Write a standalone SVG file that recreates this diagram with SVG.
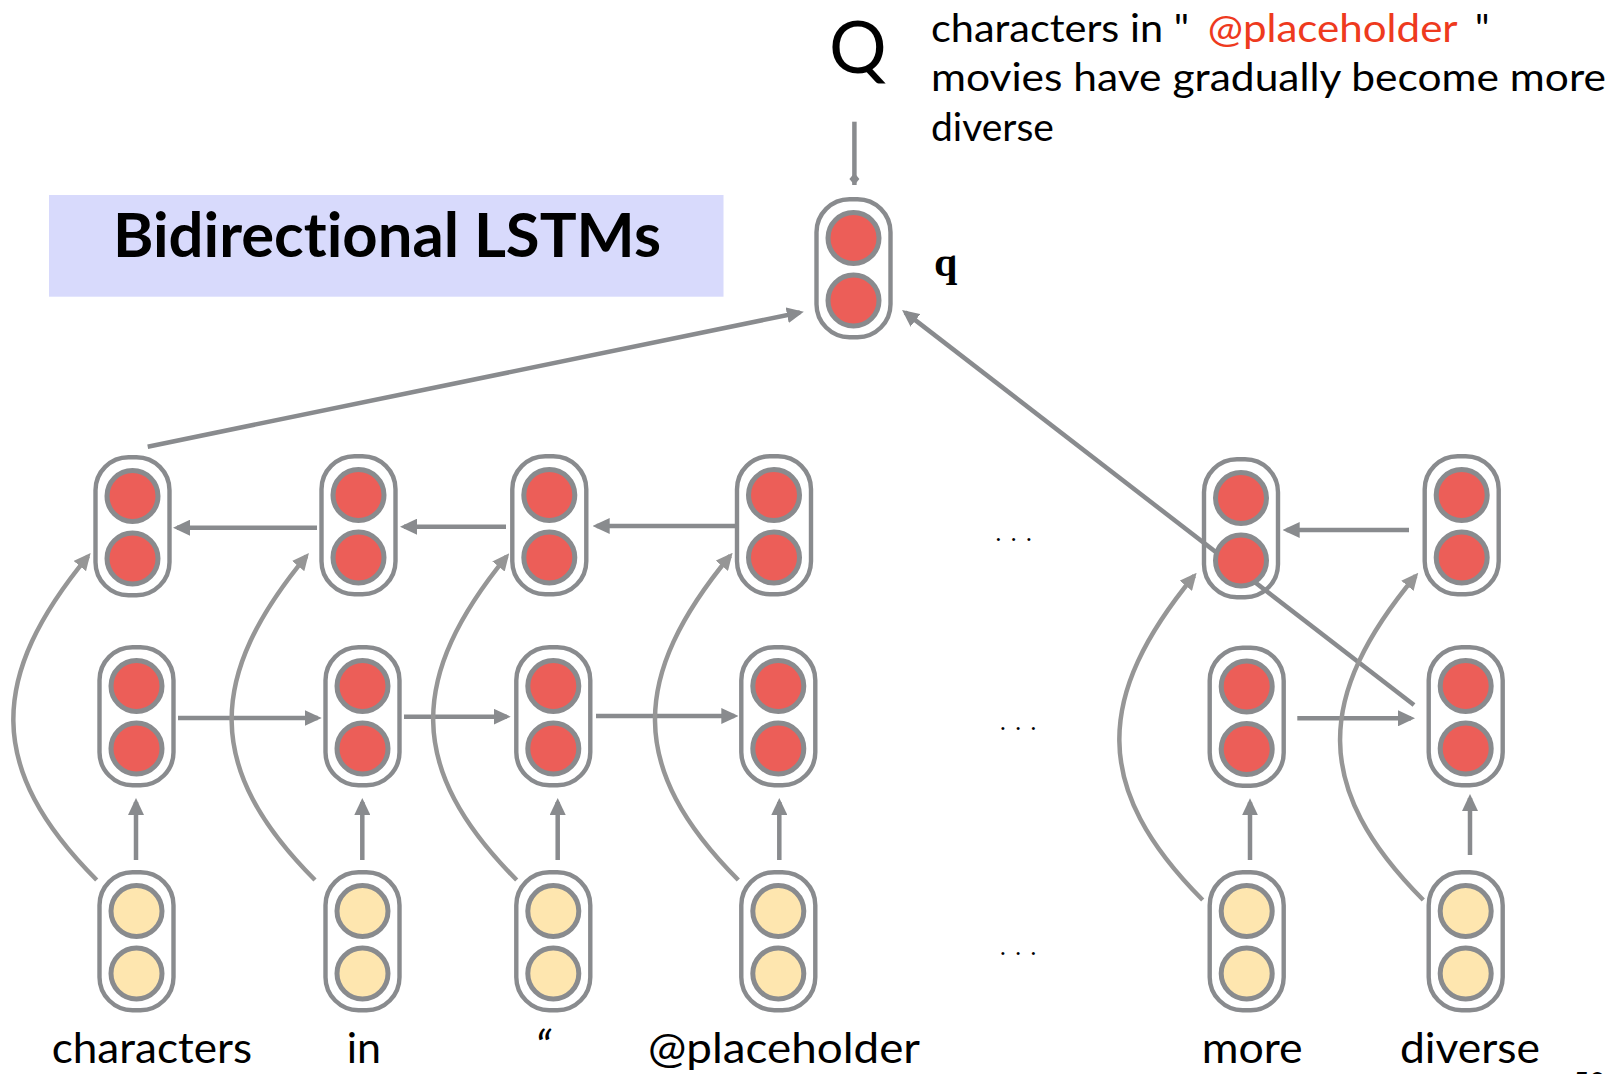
<svg xmlns="http://www.w3.org/2000/svg" xmlns:xlink="http://www.w3.org/1999/xlink" width="1613" height="1074" viewBox="0 0 1613 1074">
<style>
.sans{font-family:Lato,"Open Sans","Liberation Sans",sans-serif;fill:#000;font-variant-ligatures:none}
.lbl{font-size:43px}
.top{font-size:39px}
.ln{fill:none;stroke:#898b8e;stroke-width:4.5}
.cv{fill:none;stroke:#969696;stroke-width:4.5}
.dots{font-family:"Liberation Serif",serif;font-size:25px;letter-spacing:9px;fill:#000}
</style>
<defs>
<marker id="ah" markerUnits="userSpaceOnUse" markerWidth="17" markerHeight="16" refX="13" refY="8" orient="auto">
<path d="M0,0 L17,8 L0,16 Z" fill="#898b8e"/>
</marker>
<marker id="ahc" markerUnits="userSpaceOnUse" markerWidth="17" markerHeight="16" refX="13" refY="8" orient="auto">
<path d="M0,0 L17,8 L0,16 Z" fill="#969696"/>
</marker>
<marker id="dm" markerUnits="userSpaceOnUse" markerWidth="14" markerHeight="12" refX="13" refY="6" orient="auto">
<path d="M1,6 L7,1 L13,6 L7,11 Z" fill="#898b8e"/>
</marker>
<g id="cellR">
<rect x="-37" y="2.2" width="74" height="138" rx="33" fill="none" stroke="#898b8e" stroke-width="4.4"/>
<circle cx="0" cy="41" r="25.5" fill="#ec5e58" stroke="#898b8e" stroke-width="5"/>
<circle cx="0" cy="103.5" r="25.5" fill="#ec5e58" stroke="#898b8e" stroke-width="5"/>
</g>
<g id="cellY">
<rect x="-37" y="2.2" width="74" height="138" rx="33" fill="none" stroke="#898b8e" stroke-width="4.4"/>
<circle cx="0" cy="41" r="25.5" fill="#fee6af" stroke="#898b8e" stroke-width="5"/>
<circle cx="0" cy="103.5" r="25.5" fill="#fee6af" stroke="#898b8e" stroke-width="5"/>
</g>
</defs>
<rect x="0" y="0" width="1613" height="1074" fill="#fff"/>

<g id="title">
<rect x="49" y="195" width="674.5" height="101.7" fill="#d8dafc"/>
<text class="sans" x="113" y="256.7" font-size="62" font-weight="bold" textLength="548" lengthAdjust="spacingAndGlyphs">Bidirectional LSTMs</text>
</g>

<g id="query-text">
<text class="sans" x="829" y="73" font-size="72">Q</text>
<text class="sans top" x="931" y="42" textLength="258" lengthAdjust="spacingAndGlyphs">characters in "</text>
<text class="sans top" x="1207.7" y="42" fill="#ee3a1e" style="fill:#ee3a1e" textLength="250" lengthAdjust="spacingAndGlyphs">@placeholder</text>
<text class="sans top" x="1475" y="42">"</text>
<text class="sans top" x="931" y="90.5" textLength="675" lengthAdjust="spacingAndGlyphs">movies have gradually become more</text>
<text class="sans top" x="931" y="140.5">diverse</text>
</g>

<g id="connectors">
<path class="ln" d="M854.4,121.7 V185" marker-end="url(#dm)"/>
<path class="ln" d="M147.7,446.7 L799.9,312.5" marker-end="url(#ah)"/>
<path class="ln" d="M1414,705 L905.2,312.4" marker-end="url(#ah)"/>
<path class="ln" d="M317,527.7 H177" marker-end="url(#ah)"/>
<path class="ln" d="M506,526.7 H404" marker-end="url(#ah)"/>
<path class="ln" d="M735,526 H596.7" marker-end="url(#ah)"/>
<path class="ln" d="M1409,530 H1286.7" marker-end="url(#ah)"/>
<path class="ln" d="M178,718 H317.7" marker-end="url(#ah)"/>
<path class="ln" d="M404,716.7 H506.7" marker-end="url(#ah)"/>
<path class="ln" d="M596,716 H734.3" marker-end="url(#ah)"/>
<path class="ln" d="M1297.3,718.3 H1411" marker-end="url(#ah)"/>
<path class="ln" d="M136,860 V802" marker-end="url(#ah)"/>
<path class="ln" d="M362.3,860 V802" marker-end="url(#ah)"/>
<path class="ln" d="M557.7,860 V802" marker-end="url(#ah)"/>
<path class="ln" d="M779.3,860 V802" marker-end="url(#ah)"/>
<path class="ln" d="M1250,860 V802.3" marker-end="url(#ah)"/>
<path class="ln" d="M1470,855 V798" marker-end="url(#ah)"/>
<path class="cv" d="M96.7,880 C-15,768 -11,676 88.1,556.1" marker-end="url(#ahc)"/>
<path class="cv" d="M315,880 C203.3,768 207.3,676 306.4,556.1" marker-end="url(#ahc)"/>
<path class="cv" d="M516.7,880 C405,768 409,676 506.7,556.4" marker-end="url(#ahc)"/>
<path class="cv" d="M738.3,880 C626.6,768 630.6,676 730.1,555.8" marker-end="url(#ahc)"/>
<path class="cv" d="M1202.7,900 C1091,788 1095,696 1194.1,575.8" marker-end="url(#ahc)"/>
<path class="cv" d="M1423.3,900 C1311.6,788 1315.6,696 1415.7,575.8" marker-end="url(#ahc)"/>
</g>

<g id="q"><use xlink:href="#cellR" x="853.5" y="197"/><text x="934" y="276" font-family="'Liberation Serif',serif" font-weight="bold" font-size="42">q</text></g>

<g id="b1"><use xlink:href="#cellR" x="132.5" y="455"/></g>
<g id="b2"><use xlink:href="#cellR" x="358.5" y="454"/></g>
<g id="b3"><use xlink:href="#cellR" x="549.3" y="454"/></g>
<g id="b4"><use xlink:href="#cellR" x="774" y="454"/></g>
<g id="b5"><use xlink:href="#cellR" x="1241" y="457"/></g>
<g id="b6"><use xlink:href="#cellR" x="1461.7" y="454"/></g>

<g id="f1"><use xlink:href="#cellR" x="136.5" y="645"/></g>
<g id="f2"><use xlink:href="#cellR" x="362.5" y="645"/></g>
<g id="f3"><use xlink:href="#cellR" x="553.3" y="645"/></g>
<g id="f4"><use xlink:href="#cellR" x="778.3" y="645"/></g>
<g id="f5"><use xlink:href="#cellR" x="1246.7" y="645.5"/></g>
<g id="f6"><use xlink:href="#cellR" x="1465.7" y="645"/></g>

<g id="e1"><use xlink:href="#cellY" x="136.5" y="870"/><text class="sans lbl" x="51.7" y="1063" textLength="200.3" lengthAdjust="spacingAndGlyphs">characters</text></g>
<g id="e2"><use xlink:href="#cellY" x="362.5" y="870"/><text class="sans lbl" x="346.7" y="1063">in</text></g>
<g id="e3"><use xlink:href="#cellY" x="553.3" y="870"/><text class="sans" x="535" y="1064" font-size="46" font-style="italic">“</text></g>
<g id="e4"><use xlink:href="#cellY" x="778.3" y="870"/><text class="sans lbl" x="648" y="1063" textLength="272" lengthAdjust="spacingAndGlyphs">@placeholder</text></g>
<g id="e5"><use xlink:href="#cellY" x="1246.7" y="870"/><text class="sans lbl" x="1201.7" y="1063" textLength="101" lengthAdjust="spacingAndGlyphs">more</text></g>
<g id="e6"><use xlink:href="#cellY" x="1465.7" y="870"/><text class="sans lbl" x="1400" y="1063" textLength="140" lengthAdjust="spacingAndGlyphs">diverse</text></g>

<g id="ellipses">
<text class="dots" x="995.3" y="541">...</text>
<text class="dots" x="999.7" y="730">...</text>
<text class="dots" x="999.7" y="955.3">...</text>
</g>
<text class="sans" x="1573" y="1093" font-size="28">50</text>
</svg>
